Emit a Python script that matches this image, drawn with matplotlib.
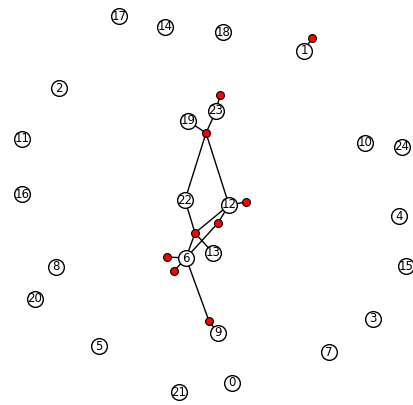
import matplotlib
matplotlib.use("Agg")
import matplotlib.pyplot as plt

# vertex labels and their positions (pixels, y down)
nodes = [0, 1, 2, 3, 4, 5, 6, 7, 8, 9, 10, 11, 12, 13, 14, 15, 16, 17, 18, 19, 20, 21, 22, 23, 24]
node_x = [232, 304, 59, 373, 399, 99, 186, 329, 56, 218, 365, 22, 229, 213, 165, 406, 22, 119, 223, 188, 35, 179, 185, 216, 402]
node_y = [383, 51, 88, 319, 216, 346, 258, 352, 267, 333, 143, 139, 205, 253, 27, 266, 194, 16, 32, 121, 299, 392, 200, 111, 147]

# hyperedges: red dot position and the vertices they join
hyper_x = [312, 220, 206, 195, 246, 218, 167, 174, 209]
hyper_y = [38, 95, 133, 233, 202, 223, 257, 271, 321]
hyper_members = [[1], [23], [23, 19, 22, 12], [22, 12, 6, 13], [12], [12, 6], [6], [6], [6, 9]]

fig = plt.figure(figsize=(4.14, 4.05), dpi=100)
ax = fig.add_axes([0, 0, 1, 1])
ax.set_xlim(0, 414)
ax.set_ylim(405, 0)
ax.axis("off")

pos = dict(zip(nodes, zip(node_x, node_y)))
for hx, hy, members in zip(hyper_x, hyper_y, hyper_members):
    for m in members:
        ax.plot([hx, pos[m][0]], [hy, pos[m][1]], color="black", lw=1, zorder=1)

ax.scatter(hyper_x, hyper_y, s=32, c="red", edgecolors="black", linewidths=0.8, zorder=2)
ax.scatter(node_x, node_y, s=128, c="white", edgecolors="black", linewidths=1, zorder=3)
for n, x, y in zip(nodes, node_x, node_y):
    ax.text(x, y, str(n), fontsize=8.5, ha="center", va="center", zorder=4)

fig.savefig("out.png", dpi=100)
